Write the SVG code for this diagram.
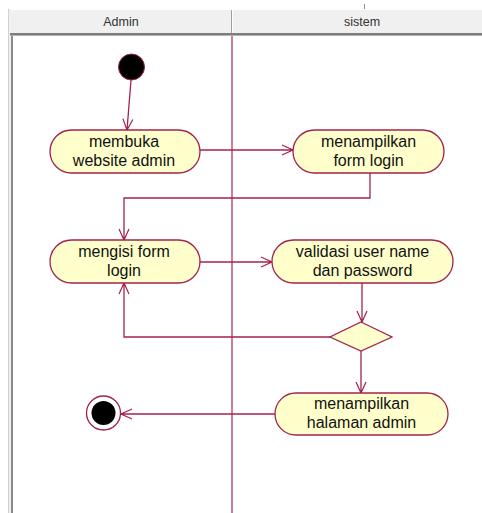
<svg xmlns="http://www.w3.org/2000/svg" width="482" height="513" viewBox="0 0 482 513">
<style>
.hdr{font-family:"Liberation Sans",Arial,sans-serif;font-size:12.5px;fill:#333;text-anchor:middle}
.act{fill:#ffffcc;stroke:#a3224f;stroke-width:1.3}
.lbl{font-family:"Liberation Sans",Arial,sans-serif;font-size:16px;fill:#111;text-anchor:middle}
.ln{fill:none;stroke:#a3224f;stroke-width:1.3}
</style>
<defs>
<marker id="arr" markerWidth="14" markerHeight="12" refX="12" refY="6" orient="auto" markerUnits="userSpaceOnUse">
<path d="M1,1 L12,6 L1,11" fill="none" stroke="#a3224f" stroke-width="1.2"/>
<path d="M9,4.6 L12,6 L9,7.4 Z" fill="#a3224f"/>
</marker>
</defs>
<rect width="482" height="513" fill="#ffffff"/>
<g id="swimlanes">
<rect x="8" y="9" width="474" height="504" fill="#f0f0f0"/>
<rect x="13" y="36" width="469" height="477" fill="#ffffff"/>
<rect x="10" y="9" width="472" height="1" fill="#ffffff"/>
<rect x="8" y="9" width="1" height="504" fill="#d0d0d0"/>
<rect x="11" y="33" width="2" height="480" fill="#8a8a8a"/>
<rect x="10" y="33" width="472" height="2" fill="#7d7d7d"/>
<rect x="10" y="35" width="472" height="1" fill="#b0b0b0"/>
<rect x="231" y="10" width="1" height="23" fill="#a0a0a0"/>
<rect x="232" y="10" width="1" height="23" fill="#ffffff"/>
<rect x="364" y="4" width="1" height="5" fill="#909090"/>
<text class="hdr" x="121" y="26">Admin</text>
<text class="hdr" x="362" y="26">sistem</text>
<line x1="232" y1="36" x2="232" y2="513" stroke="#c0506f" stroke-width="1.5"/>
</g>
<g id="connectors">
<path class="ln" d="M131,80 L127,130" marker-end="url(#arr)"/>
<path class="ln" d="M200,150 L293,150" marker-end="url(#arr)"/>
<path class="ln" d="M370,173 L370,198 L124,198 L124,240" marker-end="url(#arr)"/>
<path class="ln" d="M200,262 L272,262" marker-end="url(#arr)"/>
<path class="ln" d="M362,283 L362,322" marker-end="url(#arr)"/>
<path class="ln" d="M330,337 L124,337 L124,283" marker-end="url(#arr)"/>
<path class="ln" d="M361,351 L361,393" marker-end="url(#arr)"/>
<path class="ln" d="M275,414 L121,414" marker-end="url(#arr)"/>
</g>
<g id="start">
<circle cx="131.5" cy="67" r="13" fill="#000" stroke="#a3224f" stroke-width="1"/>
</g>
<g id="membuka">
<rect class="act" x="50" y="130" width="150" height="43" rx="21.5"/>
<text class="lbl" x="124" y="147">membuka</text>
<text class="lbl" x="124" y="166">website admin</text>
</g>
<g id="form-login">
<rect class="act" x="293" y="130" width="151" height="43" rx="21.5"/>
<text class="lbl" x="368.5" y="147">menampilkan</text>
<text class="lbl" x="368.5" y="166">form login</text>
</g>
<g id="mengisi">
<rect class="act" x="50" y="240" width="150" height="43" rx="21.5"/>
<text class="lbl" x="124" y="257">mengisi form</text>
<text class="lbl" x="124" y="276">login</text>
</g>
<g id="validasi">
<rect class="act" x="272" y="240" width="181" height="43" rx="21.5"/>
<text class="lbl" x="362.5" y="257">validasi user name</text>
<text class="lbl" x="362.5" y="276">dan password</text>
</g>
<g id="decision">
<polygon class="act" points="361,322 392,337 361,351 330,337"/>
</g>
<g id="halaman">
<rect class="act" x="275" y="393" width="173" height="42" rx="21"/>
<text class="lbl" x="361.5" y="409">menampilkan</text>
<text class="lbl" x="361.5" y="428">halaman admin</text>
</g>
<g id="end">
<circle cx="103.5" cy="413" r="17" fill="#ffffff" stroke="#a3224f" stroke-width="1.3"/>
<circle cx="103.5" cy="413" r="12" fill="#000"/>
</g>
</svg>
